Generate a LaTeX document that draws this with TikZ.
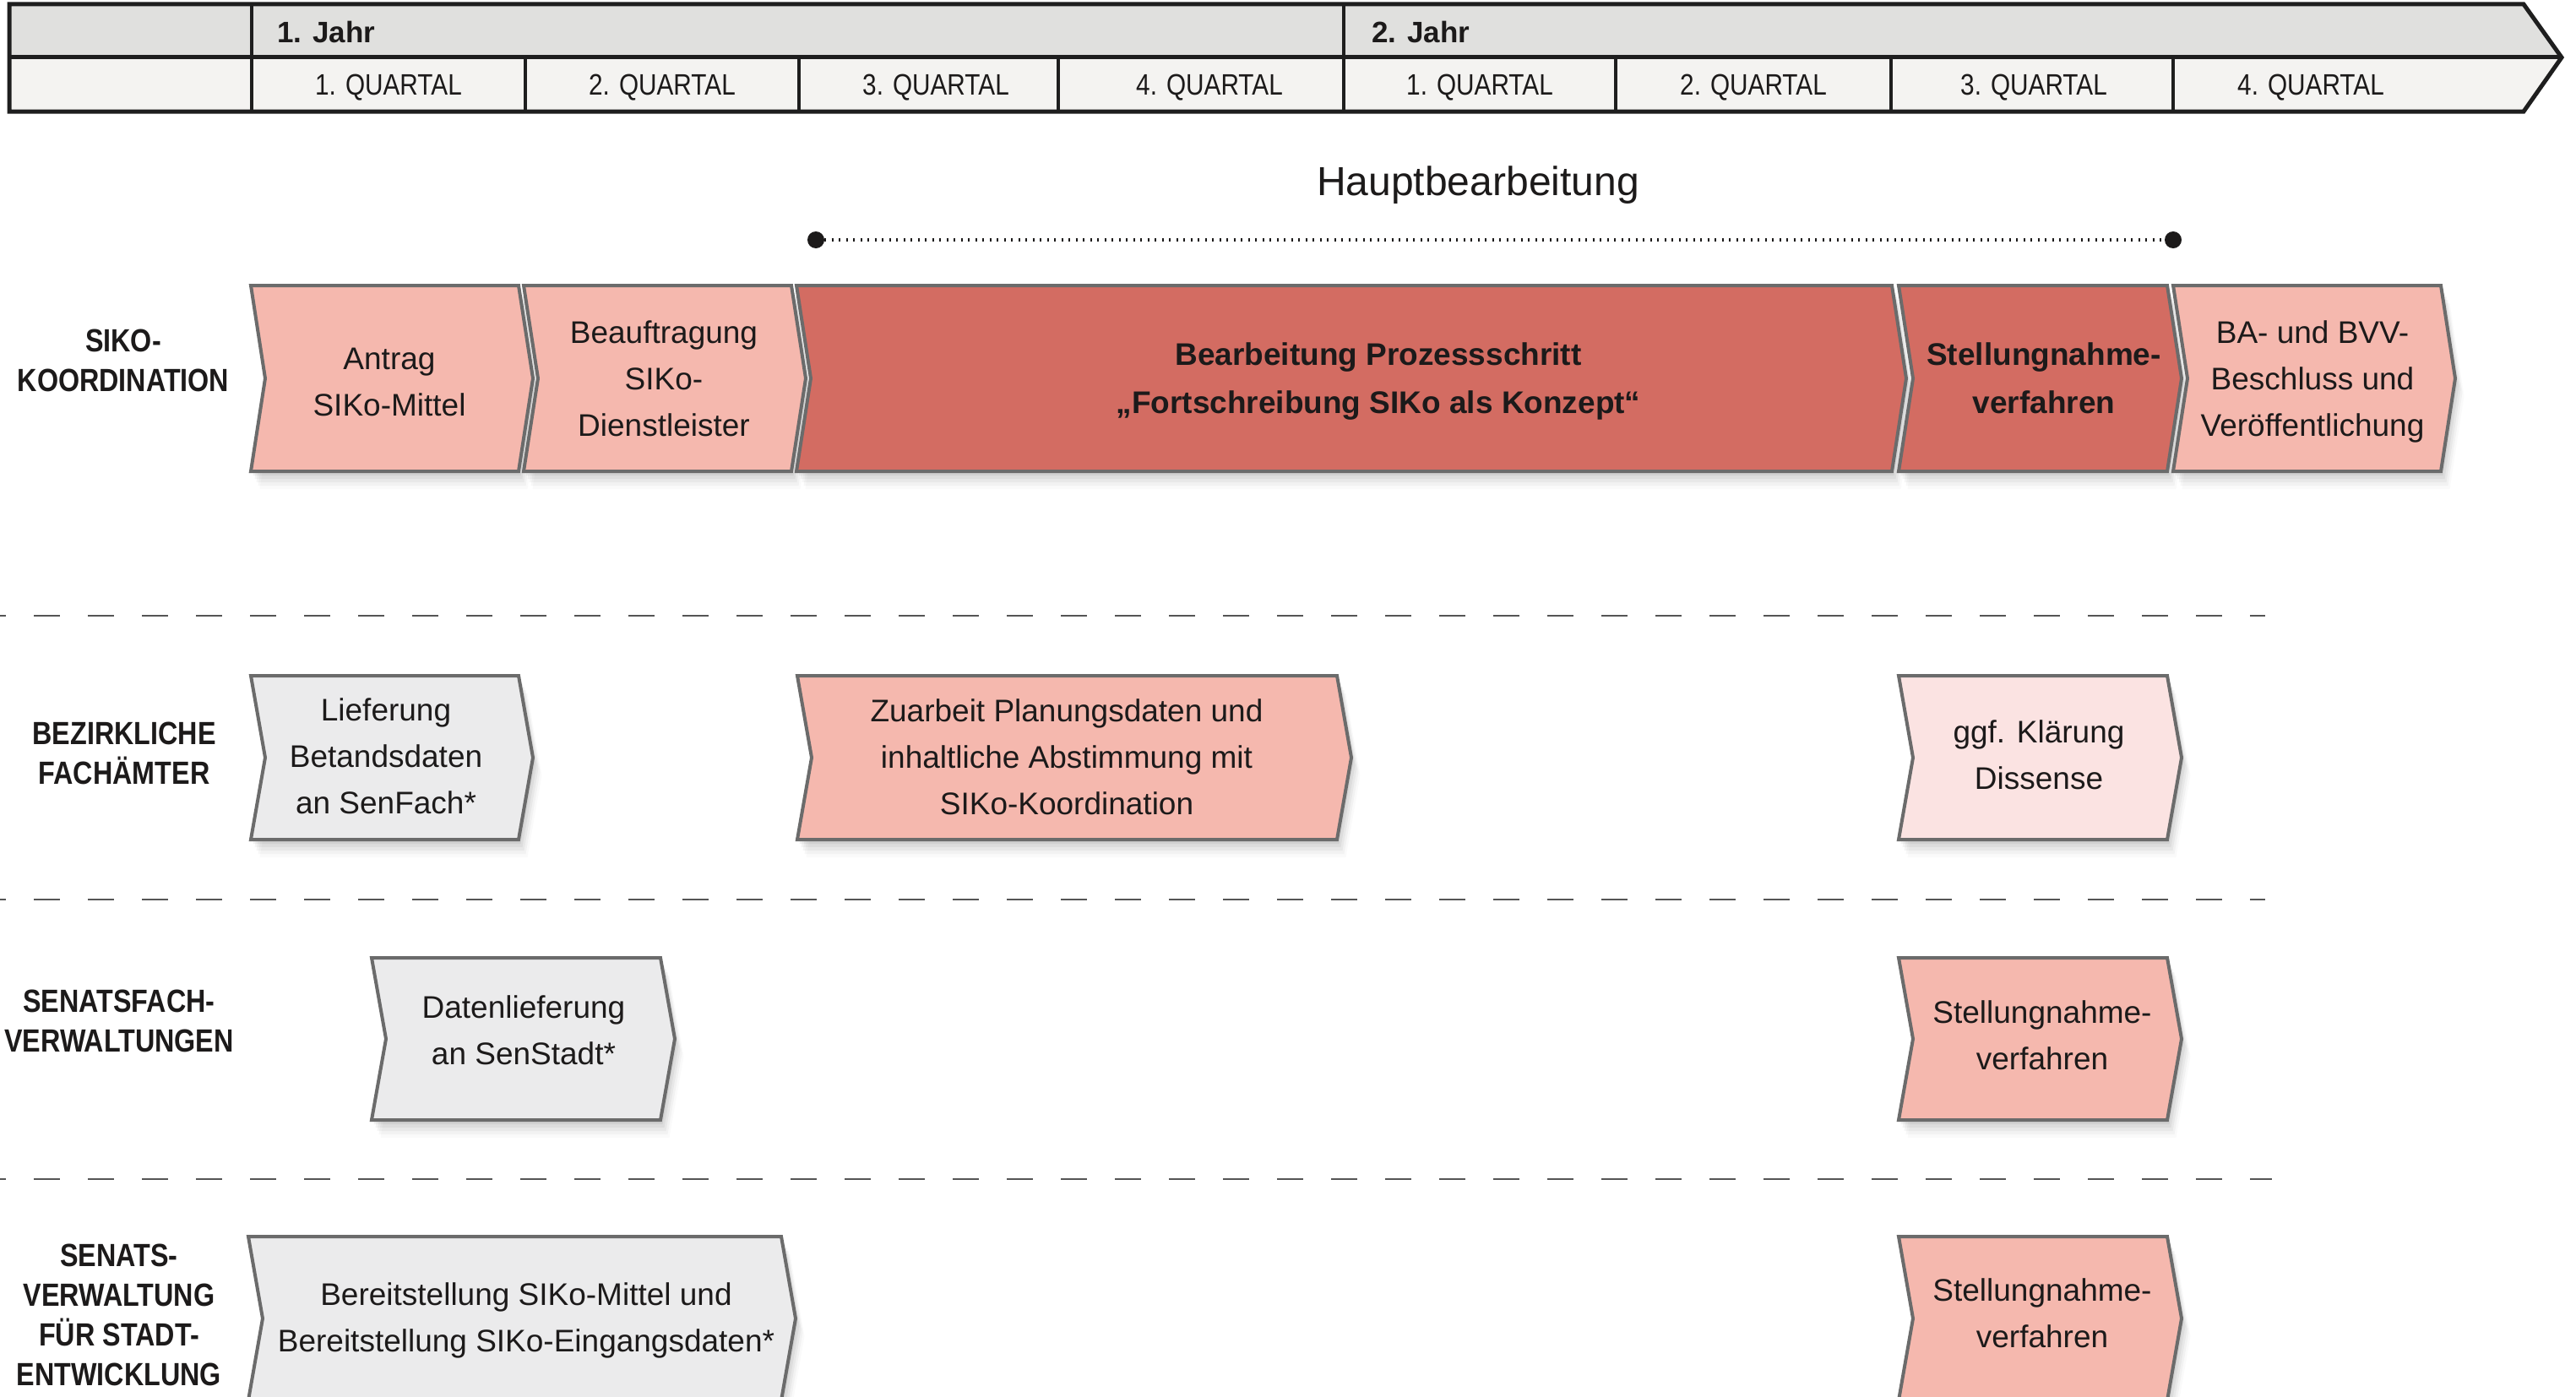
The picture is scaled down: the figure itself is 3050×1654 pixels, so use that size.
\documentclass[tikz,border=0pt]{standalone}
\usepackage{fontspec}
\setmainfont{Liberation Sans}
\newfontfamily\condfont[FakeStretch=0.85]{Liberation Sans}
\usetikzlibrary{calc}
\definecolor{cDark}{HTML}{D36C62}
\definecolor{cPink}{HTML}{F5B8AE}
\definecolor{cLight}{HTML}{FBE3E2}
\definecolor{cGray}{HTML}{EBEBEC}
\definecolor{cBorder}{HTML}{6B6B6B}
\definecolor{cText}{HTML}{1C1A1A}
\definecolor{cHeadTop}{HTML}{E0E0DE}
\definecolor{cHeadBot}{HTML}{F4F3F1}
\definecolor{cHeadLine}{HTML}{1E1E1E}
\definecolor{cSep}{HTML}{555555}
\tikzset{
  boxline/.style={draw=cBorder, line width=4pt, line join=miter},
  boxtext/.style={align=center, text=cText, font=\fontsize{37}{55}\selectfont, inner sep=0pt},
  boldtext/.style={align=center, text=cText, font=\bfseries\fontsize{37}{57}\selectfont, inner sep=0pt},
  lanelabel/.style={align=center, text=cText, font=\condfont\bfseries\fontsize{38}{47}\selectfont, inner sep=0pt},
  quartal/.style={text=cText, font=\condfont\fontsize{35}{40}\selectfont, inner sep=0pt},
  yearlabel/.style={text=cText, font=\bfseries\fontsize{35}{40}\selectfont, anchor=west, inner sep=0pt},
  sepline/.style={draw=cSep, line width=2pt, dash pattern=on 31pt off 33pt},
  headline/.style={draw=cHeadLine, line join=miter},
  dotend/.style={circle, fill=cText, minimum size=20pt, inner sep=0pt},
  dotline/.style={draw=cText, line width=4pt, dash pattern=on 2pt off 6.5pt},
}
% #1 name, #2 text style, #3 x0, #4 x1, #5 ytop, #6 ybot, #7 fill, #8 text position "x,y", #9 text
\newcommand\chevbox[9]{%
  \pgfmathsetmacro\ym{(#5+#6)/2}%
  \pgfmathsetmacro\xa{#3+17}%
  \pgfmathsetmacro\xb{#4+17}%
  \foreach \s/\o in {5/0.05,9/0.045,13/0.04,17/0.03,21/0.02}{%
    \begin{scope}[shift={(0.5*\s,\s)}]
      \fill[black, opacity=\o] (#3,#5) -- (#4,#5) -- (\xb,\ym) -- (#4,#6) -- (#3,#6) -- (\xa,\ym) -- cycle;
    \end{scope}
  }%
  \path[fill=#7, boxline] (#3,#5) -- (#4,#5) -- (\xb,\ym) -- (#4,#6) -- (#3,#6) -- (\xa,\ym) -- cycle;
  \node[#2] (#1) at (#8) {#9};
}
\begin{document}
\begin{tikzpicture}[x=1pt, y=-1pt]
\useasboundingbox (0,0) rectangle (3050,1654);
\fill[white] (0,0) rectangle (3050,1654);

% ---------- header ----------
\fill[cHeadTop] (11,5) -- (2988,5) -- (3033,68) -- (11,68) -- cycle;
\fill[cHeadBot] (11,68) -- (3033,68) -- (2988,132) -- (11,132) -- cycle;
\draw[headline, line width=4pt] (298,5) -- (298,132);
\draw[headline, line width=4pt] (1591,5) -- (1591,132);
\foreach \qx in {622,946,1253,1913,2239,2573}{
  \draw[headline, line width=3.5pt] (\qx,68) -- (\qx,132);
}
\draw[headline, line width=5pt] (11,68) -- (3033,68);
\draw[headline, line width=5pt] (11,5) -- (2988,5) -- (3033,68) -- (2988,132) -- (11,132) -- cycle;

\node[yearlabel] (y1) at (328,38) {1. Jahr};
\node[yearlabel] (y2) at (1624,38) {2. Jahr};
\node[quartal] (q1) at (460,104) {1. QUARTAL};
\node[quartal] (q2) at (784,104) {2. QUARTAL};
\node[quartal] (q3) at (1108,104) {3. QUARTAL};
\node[quartal] (q4) at (1432,104) {4. QUARTAL};
\node[quartal] (q5) at (1752,104) {1. QUARTAL};
\node[quartal] (q6) at (2076,104) {2. QUARTAL};
\node[quartal] (q7) at (2408,104) {3. QUARTAL};
\node[quartal] (q8) at (2736,104) {4. QUARTAL};

% ---------- Hauptbearbeitung ----------
\node[text=cText, font=\fontsize{48}{56}\selectfont, inner sep=0pt] (hb) at (1750,219) {Hauptbearbeitung};
\node[dotend] (hba) at (966,284) {};
\node[dotend] (hbb) at (2573,284) {};
\draw[dotline] (hba) -- (hbb);

% ---------- separators ----------
\draw[sepline] (-24,729) -- (2682,729);
\draw[sepline] (-24,1065) -- (2682,1065);
\draw[sepline] (-24,1396) -- (2690,1396);

% ---------- lane labels ----------
\node[lanelabel] (l1) at (146,427) {SIKO-\\KOORDINATION};
\node[lanelabel] (l2) at (147,892) {BEZIRKLICHE\\FACHÄMTER};
\node[lanelabel] (l3) at (141,1209) {SENATSFACH-\\VERWALTUNGEN};
\node[lanelabel] (l4) at (141,1557) {SENATS-\\VERWALTUNG\\FÜR STADT-\\ENTWICKLUNG};

% ---------- row 1 ----------
\chevbox{antrag}{boxtext}{297}{614}{338}{558}{cPink}{461,452}{Antrag\\SIKo-Mittel}
\chevbox{beauf}{boxtext}{620}{937}{338}{558}{cPink}{786,448}{Beauftragung\\SIKo-\\Dienstleister}
\chevbox{bearb}{boldtext}{943}{2240}{338}{558}{cDark}{1632,452}{Bearbeitung Prozessschritt\\„Fortschreibung SIKo als Konzept“}
\chevbox{stell}{boldtext}{2248}{2566}{338}{558}{cDark}{2420,448}{Stellungnahme-\\verfahren}
\chevbox{ba}{boxtext}{2573}{2890}{338}{558}{cPink}{2738,452}{BA- und BVV-\\Beschluss und\\Veröffentlichung}

% ---------- row 2 ----------
\chevbox{liefer}{boxtext}{297}{614}{800}{994}{cGray}{457,895}{Lieferung\\Betandsdaten\\an SenFach*}
\chevbox{zuarb}{boxtext}{944}{1583}{800}{994}{cPink}{1263,896}{Zuarbeit Planungsdaten und\\inhaltliche Abstimmung mit\\SIKo-Koordination}
\chevbox{klaer}{boxtext}{2248}{2566}{800}{994}{cLight}{2414,894}{ggf. Klärung\\Dissense}

% ---------- row 3 ----------
\chevbox{daten}{boxtext}{440}{782}{1134}{1326}{cGray}{620,1220}{Datenlieferung\\an SenStadt*}
\chevbox{stellb}{boxtext}{2248}{2566}{1134}{1326}{cPink}{2418,1226}{Stellungnahme-\\verfahren}

% ---------- row 4 ----------
\chevbox{bereit}{boxtext}{294}{925}{1464}{1658}{cGray}{623,1563}{Bereitstellung SIKo-Mittel und\\Bereitstellung SIKo-Eingangsdaten*}
\chevbox{stellc}{boxtext}{2248}{2566}{1464}{1658}{cPink}{2418,1555}{Stellungnahme-\\verfahren}
\end{tikzpicture}
\end{document}
